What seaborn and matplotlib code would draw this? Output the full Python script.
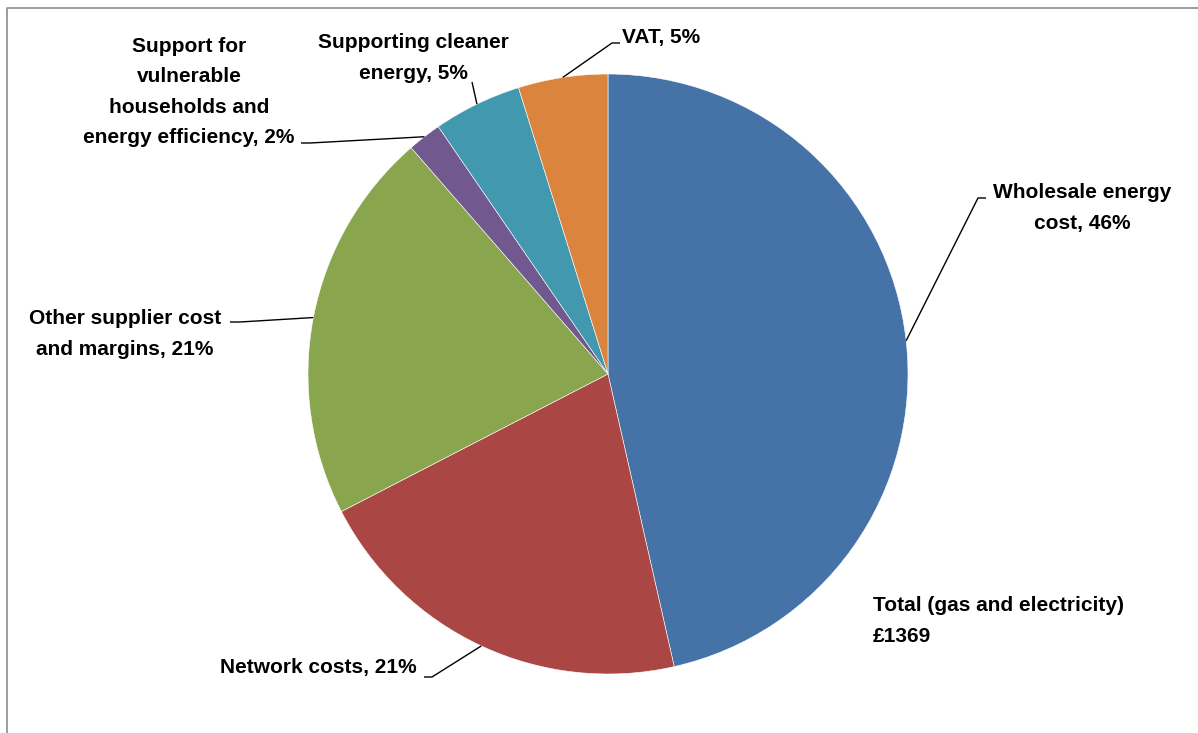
import matplotlib
matplotlib.use("Agg")
import matplotlib.pyplot as plt
import numpy as np
import seaborn as sns

# Average annual dual-fuel bill breakdown (£)
categories = [
    "Wholesale energy cost",
    "Network costs",
    "Other supplier cost and margins",
    "Support for vulnerable households and energy efficiency",
    "Supporting cleaner energy",
    "VAT",
]
bill_gbp = [636, 287, 290, 25, 65, 66]
label_text = [
    "Wholesale energy\ncost",
    "Network costs",
    "Other supplier cost\nand margins",
    "Support for\nvulnerable\nhouseholds and\nenergy efficiency",
    "Supporting cleaner\nenergy",
    "VAT",
]
total_caption = "Total (gas and electricity)"

sns.set_theme(style="white")
plt.rcParams["font.family"] = ["Liberation Sans", "DejaVu Sans"]

colors = ["#4572A7", "#AA4643", "#89A54E", "#71588F", "#4198AF", "#DB843D"]

W, H = 1198, 733
fig = plt.figure(figsize=(W / 100, H / 100), dpi=100)
ax = fig.add_axes([0, 0, 1, 1])

cx, cy, r = 608, H - 374, 300
wedges, _ = ax.pie(
    bill_gbp, colors=colors, startangle=90, counterclock=False,
    radius=r, center=(cx, cy), frame=True,
    wedgeprops=dict(linewidth=0.4, edgecolor="white"),
)
ax.set_xlim(0, W)
ax.set_ylim(0, H)
ax.set_aspect("equal")
ax.axis("off")

total = sum(bill_gbp)
pcts = [round(100 * v / total) for v in bill_gbp]

# label layout: text anchor (pixel coords from top), alignment, elbow point, elbow end
layout = [
    dict(xy=(1082, 208), ha="center", elbow=(978, 198), end=(986, 198)),
    dict(xy=(318, 668), ha="center", elbow=(432, 677), end=(424, 677)),
    dict(xy=(125, 334), ha="center", elbow=(240, 322), end=(230, 322)),
    dict(xy=(189, 92), ha="center", elbow=(310, 143), end=(301, 143)),
    dict(xy=(413, 58), ha="center", elbow=(472, 82), end=(472, 82)),
    dict(xy=(622, 37), ha="left", elbow=(612, 43), end=(620, 43)),
]

fs = 15
ls = 1.76
for w, txt, p, lay in zip(wedges, label_text, pcts, layout):
    mid = np.deg2rad((w.theta1 + w.theta2) / 2)
    px, py = cx + r * np.cos(mid), cy + r * np.sin(mid)
    ex, ey = lay["elbow"]
    fx, fy = lay["end"]
    ax.plot([px, ex, fx], [py, H - ey, H - fy], color="black", lw=1.0,
            solid_capstyle="butt")
    ax.text(lay["xy"][0], H - lay["xy"][1], f"{txt}, {p}%", ha=lay["ha"],
            va="center", fontsize=fs, fontweight="bold", color="black",
            linespacing=ls)

ax.text(873, H - 621, f"{total_caption}\n£{total}", ha="left", va="center",
        fontsize=fs, fontweight="bold", color="black", linespacing=ls)

# chart area border (top and left edges visible)
ax.plot([6.5, 6.5, W], [0, H - 7.5, H - 7.5], color="#8c8c8c", lw=1.2)

fig.savefig("out.png", dpi=100, facecolor="white")
